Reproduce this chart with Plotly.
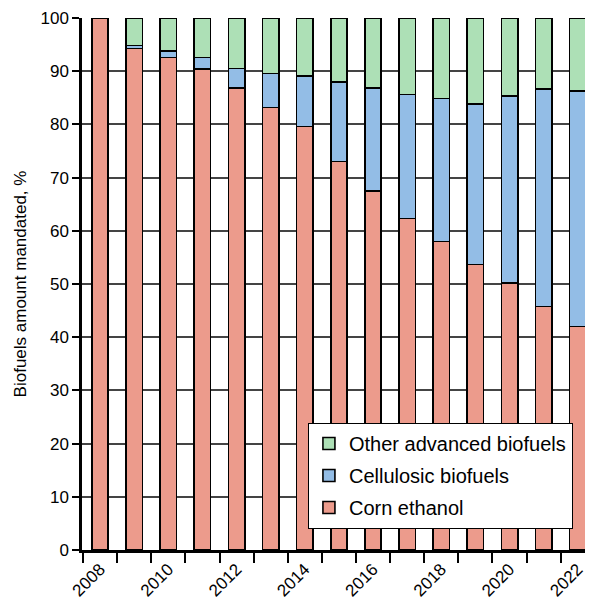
import plotly.graph_objects as go

years = list(range(2008, 2023))
corn = [100, 94.3, 92.6, 90.4, 86.8, 83.2, 79.6, 73.0, 67.5, 62.3, 58.0, 53.7, 50.2, 45.8, 42.0]
cell_top = [100, 94.8, 93.8, 92.6, 90.5, 89.6, 89.1, 88.0, 86.8, 85.6, 84.9, 83.8, 85.3, 86.6, 86.3]
cellulosic = [round(t - c, 2) for t, c in zip(cell_top, corn)]
other = [round(100 - t, 2) for t in cell_top]
tick_years = [2008, 2010, 2012, 2014, 2016, 2018, 2020, 2022]

fig = go.Figure()
line = dict(color="black", width=1.6)
fig.add_bar(x=years, y=corn, name="Corn ethanol", legendgroup="corn", legendrank=3,
            marker=dict(color="#ec9b8c", line=line))
fig.add_bar(x=years, y=cellulosic, name="Cellulosic biofuels", legendgroup="cell", legendrank=2,
            marker=dict(color="#93bde6", line=line))
fig.add_bar(x=years, y=other, name="Other advanced biofuels", legendgroup="other", legendrank=1,
            marker=dict(color="#ade0b6", line=line))

font = "Liberation Sans, Arial, sans-serif"
# page body has an 8px default margin, so the figure is sized/offset to compensate
fig.update_layout(
    barmode="stack",
    bargap=0.52,
    width=585, height=596,
    margin=dict(l=74, r=6, t=10, b=54),
    plot_bgcolor="white", paper_bgcolor="white",
    font=dict(family=font, size=17, color="black"),
    showlegend=True,
    legend=dict(
        traceorder="grouped",
        x=0.447, y=0.239, xanchor="left", yanchor="top",
        bgcolor="white", bordercolor="black", borderwidth=1.2,
        font=dict(size=20), itemwidth=30, tracegroupgap=3,
    ),
)
fig.update_xaxes(
    range=[2007.47, 2022.27],
    tickvals=tick_years, ticktext=[str(y) for y in tick_years],
    tickangle=-45, ticks="", tickfont=dict(size=17),
    showgrid=False, showline=True, linecolor="black", linewidth=2.5,
    minor=dict(tick0=2007.5, dtick=1, ticks="outside", ticklen=10, tickwidth=2, tickcolor="black", showgrid=False),
    zeroline=False, automargin=False,
)
fig.update_yaxes(
    range=[0, 100], dtick=10,
    ticks="outside", ticklen=7, tickwidth=2, tickcolor="black",
    showgrid=True, gridcolor="#444444", gridwidth=1.5,
    showline=True, linecolor="black", linewidth=2.5,
    zeroline=False, automargin=False,
    title=dict(text="Biofuels amount mandated, %", font=dict(size=17), standoff=10),
    tickfont=dict(size=17),
)
fig.write_html("out.html")
